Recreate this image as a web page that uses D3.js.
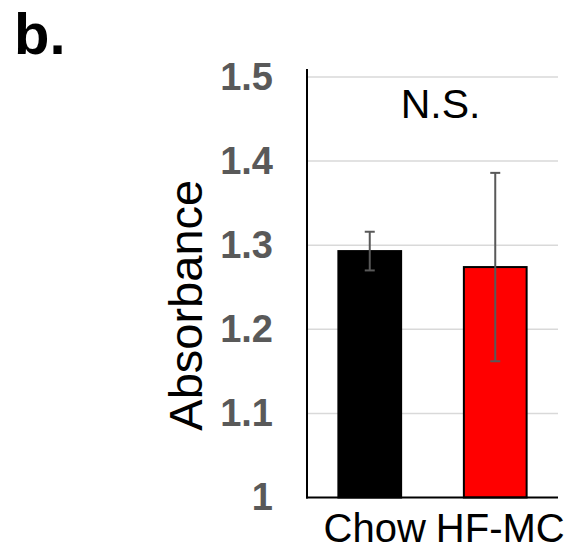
<!DOCTYPE html>
<html>
<head>
<meta charset="utf-8">
<script src="https://cdn.jsdelivr.net/npm/d3@7"></script>
<style>
  body { margin: 0; background: #fff; }
  svg { display: block; font-family: "Liberation Sans", Arial, sans-serif; }
</style>
</head>
<body>
<svg id="chart"></svg>
<script>
// data
const groups = ['Chow', 'HF-MC'];
const means = [1.293, 1.274];
const errors = [0.023, 0.112];
const barColors = ['#000000', '#ff0000'];
const yTicks = [1, 1.1, 1.2, 1.3, 1.4, 1.5];
const yTickLabels = ['1', '1.1', '1.2', '1.3', '1.4', '1.5'];

const width = 569, height = 549;
const margin = {top: 77, right: 11, bottom: 51.5, left: 307};
const innerW = width - margin.left - margin.right;
const innerH = height - margin.top - margin.bottom;

const svg = d3.select('#chart')
    .attr('width', width)
    .attr('height', height);

const chart = svg.append('g')
    .attr('transform', `translate(${margin.left}, ${margin.top})`);

const xscale = d3.scaleBand()
    .domain(groups)
    .range([0, innerW])
    .paddingInner(0.5)
    .paddingOuter(0.25);

const yscale = d3.scaleLinear()
    .domain([1, 1.5])
    .range([innerH, 0]);

// gridlines
chart.append('g')
    .selectAll('line')
    .data(yTicks.slice(1))
    .join('line')
    .attr('x1', 0)
    .attr('x2', innerW)
    .attr('y1', d => yscale(d))
    .attr('y2', d => yscale(d))
    .attr('stroke', '#d9d9d9')
    .attr('stroke-width', 1.5);

// y tick labels
const yaxis = d3.axisLeft(yscale)
    .tickValues(yTicks)
    .tickFormat((d, i) => yTickLabels[i])
    .tickSize(0)
    .tickPadding(34);

const yaxis_group = chart.append('g').call(yaxis);
yaxis_group.select('.domain').remove();
yaxis_group.selectAll('text')
    .attr('fill', '#595959')
    .style('font-size', '38px')
    .style('font-weight', 'bold')
    .style('font-family', '"Liberation Sans", Arial, sans-serif');

// bars
chart.selectAll('rect.bar')
    .data(groups)
    .join('rect')
    .attr('class', 'bar')
    .attr('x', d => xscale(d))
    .attr('width', xscale.bandwidth())
    .attr('y', (d, i) => yscale(means[i]))
    .attr('height', (d, i) => innerH - yscale(means[i]))
    .attr('fill', (d, i) => barColors[i])
    .attr('stroke', '#000')
    .attr('stroke-width', 2);

// error bars
const errs = chart.append('g')
    .selectAll('g')
    .data(groups)
    .join('g')
    .attr('stroke', '#595959')
    .attr('stroke-width', 2);

const cx = d => xscale(d) + xscale.bandwidth() / 2;
const capW = 5;

errs.append('line')
    .attr('x1', cx).attr('x2', cx)
    .attr('y1', (d, i) => yscale(means[i] + errors[i]))
    .attr('y2', (d, i) => yscale(means[i] - errors[i]));
errs.append('line')
    .attr('x1', d => cx(d) - capW).attr('x2', d => cx(d) + capW)
    .attr('y1', (d, i) => yscale(means[i] + errors[i]))
    .attr('y2', (d, i) => yscale(means[i] + errors[i]));
errs.append('line')
    .attr('x1', d => cx(d) - capW).attr('x2', d => cx(d) + capW)
    .attr('y1', (d, i) => yscale(means[i] - errors[i]))
    .attr('y2', (d, i) => yscale(means[i] - errors[i]));

// axis lines
chart.append('line')
    .attr('x1', 0).attr('x2', 0)
    .attr('y1', -8).attr('y2', innerH + 1)
    .attr('stroke', '#000')
    .attr('stroke-width', 2);
chart.append('line')
    .attr('x1', -1).attr('x2', innerW)
    .attr('y1', innerH).attr('y2', innerH)
    .attr('stroke', '#000')
    .attr('stroke-width', 2);

// category labels
chart.append('g')
    .selectAll('text')
    .data(groups)
    .join('text')
    .attr('x', d => cx(d) + 5)
    .attr('y', innerH + 44)
    .attr('text-anchor', 'middle')
    .style('font-size', '40px')
    .text(d => d);

// N.S.
chart.append('text')
    .attr('x', innerW / 2 + 8)
    .attr('y', 41)
    .attr('text-anchor', 'middle')
    .style('font-size', '41px')
    .text('N.S.');

// y label
svg.append('text')
    .attr('transform', `translate(202, ${margin.top + innerH / 2 + 18}) rotate(-90)`)
    .attr('text-anchor', 'middle')
    .style('font-size', '47px')
    .text('Absorbance');

// panel letter
svg.append('text')
    .attr('x', 14)
    .attr('y', 54)
    .style('font-size', '58px')
    .style('font-weight', 'bold')
    .text('b.');
</script>
</body>
</html>
